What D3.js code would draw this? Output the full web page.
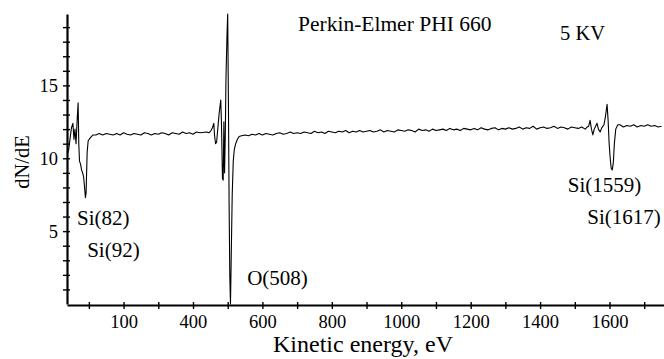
<!DOCTYPE html>
<html>
  <head>
    <meta charset="utf-8">
    <title>Auger spectrum</title>
    <style media="screen">
    body{margin: 0; background: #fff}
    svg text {font-family: "Liberation Serif", "DejaVu Serif", serif; fill: #000}
    </style>
  </head>
  <body>

    <script src="https://d3js.org/d3.v7.min.js"></script>

    <script type="text/javascript">
      var w = 664, h = 359

      // peak regions, [eV, dN/dE]
      var siLow = [
        [38, 10.3], [42, 10.6], [46, 11.4], [50, 12.1], [54, 12.4], [57, 11.3],
        [60, 12.0], [63, 11.0], [66, 12.5], [69, 13.8], [71, 11.0], [73, 9.8],
        [76, 9.6], [79, 9.2], [82, 9.0], [85, 8.7], [88, 7.9], [90, 7.3],
        [92, 7.6], [95, 10.4], [98, 11.2], [104, 11.4], [112, 11.6], [120, 11.6]
      ]
      var oPeak = [
        [440, 11.8], [446, 11.75], [452, 11.9], [456, 12.1], [460, 12.4],
        [462, 11.6], [465, 11.0], [468, 11.1], [471, 11.9], [475, 13.0],
        [478, 13.6], [480, 14.0], [482, 12.4], [485, 8.6], [487, 8.5],
        [489, 12.5], [491, 9.0], [493, 11.5], [495, 15.5], [498, 18.5],
        [500, 19.9], [502, 14.0], [504, 7.0], [506, 2.0], [508, 0],
        [510, 3.0], [513, 7.5], [516, 9.8], [519, 10.6], [523, 11.0],
        [528, 11.3], [533, 11.5]
      ]
      var siHigh = [
        [1530, 12.0], [1536, 12.15], [1540, 12.2], [1544, 12.6], [1548, 12.0],
        [1552, 11.6], [1556, 12.0], [1560, 12.2], [1564, 12.4], [1568, 12.0],
        [1573, 11.8], [1578, 12.1], [1584, 12.3], [1588, 12.8], [1593, 13.7],
        [1596, 12.6], [1599, 11.0], [1602, 10.0], [1605, 9.3], [1608, 9.2],
        [1611, 9.7], [1614, 11.0], [1618, 12.0], [1624, 12.3]
      ]

      // flat parts of the trace, sampled every 10 eV
      var baseStep = 10
      var baseA = {start: 130, v: [
        11.7, 11.6, 11.7, 11.65, 11.6, 11.7, 11.6, 11.75, 11.65,
        11.6, 11.7, 11.65, 11.6, 11.75, 11.7, 11.6, 11.7, 11.65, 11.75,
        11.7, 11.6, 11.75, 11.7, 11.65, 11.8, 11.7, 11.75, 11.65, 11.8,
        11.75
      ]}
      var baseB = {start: 540, v: [
        11.55, 11.6, 11.55, 11.65, 11.6, 11.7, 11.6,
        11.7, 11.65, 11.6, 11.7, 11.75, 11.65, 11.7, 11.8, 11.7, 11.75,
        11.7, 11.8, 11.75, 11.7, 11.85, 11.75, 11.8, 11.7, 11.85, 11.8,
        11.75, 11.85, 11.8, 11.9, 11.75, 11.85, 11.8, 11.9, 11.8, 11.85,
        11.9, 11.8, 11.85, 11.95, 11.8, 11.9, 11.85, 11.8, 11.95, 11.9,
        11.85, 11.95, 11.9, 11.8, 12.0, 11.9, 11.95, 11.85, 12.0, 11.9,
        11.95, 12.0, 11.9, 12.05, 11.95, 12.0, 11.9, 12.05, 12.0, 11.95,
        12.05, 11.95, 12.1, 12.0, 11.95, 12.05, 12.1, 11.95, 12.05, 12.0,
        12.1, 12.0, 12.05, 12.15, 12.0, 12.1, 12.05, 12.2, 12.0, 12.1,
        12.15, 12.05, 12.1, 12.2, 12.05, 12.15, 12.1, 12.0, 12.15, 12.1,
        12.05, 12.15
      ]}
      var baseC = {start: 1630, v: [
        12.3, 12.15, 12.25, 12.2, 12.3, 12.15, 12.25, 12.2, 12.3,
        12.2, 12.25, 12.15, 12.2
      ]}

      var xTicks = d3.range(100, 1800, 100)
      var xLabelled = [200, 400, 600, 800, 1000, 1200, 1400, 1600]
      var xLabels = ['100', '400', '600', '800', '1000', '1200', '1400', '1600']
      var yTicks = d3.range(1, 20)
      var yLabelled = [5, 10, 15]

      // peak names, placed in data units
      var notes = [
        {text: 'Si(82)', e: 66, v: 5.42},
        {text: 'Si(92)', e: 95, v: 3.23},
        {text: 'O(508)', e: 556, v: 1.30},
        {text: 'Si(1559)', e: 1480, v: 7.69},
        {text: 'Si(1617)', e: 1536, v: 5.49}
      ]

      function expand(b){
        return b.v.map(function(v, i){ return [b.start + i * baseStep, v] })
      }
      var trace = [].concat(siLow, expand(baseA), oPeak, expand(baseB), siHigh, expand(baseC))

      var x = d3.scaleLinear().domain([37, 1757]).range([67, 664])
      var y = d3.scaleLinear().domain([0, 19.9]).range([304, 14])

      var svg = d3.select('body').append('svg')
        .attr('width', w)
        .attr('height', h)

      // x axis
      var gx = svg.append('g')
        .attr('transform', 'translate(0,' + 305 + ')')
        .call(d3.axisBottom(x).tickValues(xTicks).tickSize(4).tickSizeOuter(0)
          .tickFormat(function(d){
            var i = xLabelled.indexOf(d)
            return i < 0 ? '' : xLabels[i]
          }))
      gx.select('.domain').attr('stroke-width', 2.2)
      gx.selectAll('.tick line').attr('y1', -3).attr('stroke-width', 1.4)
      gx.selectAll('.tick text')
        .attr('font-size', 18.5).attr('font-family', null).attr('y', 10)

      // y axis
      var gy = svg.append('g')
        .attr('transform', 'translate(67,0)')
        .call(d3.axisLeft(y).tickValues(yTicks).tickSize(4).tickSizeOuter(0)
          .tickPadding(5)
          .tickFormat(function(d){ return yLabelled.indexOf(d) < 0 ? '' : d }))
      gy.select('.domain').attr('stroke-width', 2.2)
      gy.selectAll('.tick line').attr('x1', 3).attr('stroke-width', 1.4)
      gy.selectAll('.tick text').attr('font-size', 18.5).attr('font-family', null)

      // spectrum
      var line = d3.line()
        .x(function(d){ return x(d[0]) })
        .y(function(d){ return y(d[1]) })

      svg.append('path')
        .datum(trace)
        .attr('d', line)
        .attr('fill', 'none')
        .attr('stroke', '#000')
        .attr('stroke-width', 1.1)
        .attr('stroke-linejoin', 'round')

      // labels
      svg.selectAll('text.note')
        .data(notes)
        .enter()
          .append('text')
          .attr('class', 'note')
          .attr('x', function(d){ return x(d.e) })
          .attr('y', function(d){ return y(d.v) })
          .attr('font-size', 21)
          .text(function(d){ return d.text })

      svg.append('text')
        .attr('x', 298).attr('y', 31)
        .attr('font-size', 21.5)
        .text('Perkin-Elmer PHI 660')

      svg.append('text')
        .attr('x', 560).attr('y', 40)
        .attr('font-size', 20.5)
        .text('5 KV')

      svg.append('text')
        .attr('x', 363).attr('y', 352)
        .attr('text-anchor', 'middle')
        .attr('font-size', 24)
        .text('Kinetic energy, eV')

      svg.append('text')
        .attr('transform', 'translate(29,162) rotate(-90)')
        .attr('text-anchor', 'middle')
        .attr('font-size', 20.5)
        .text('dN/dE')

    </script>

  </body>
</html>
